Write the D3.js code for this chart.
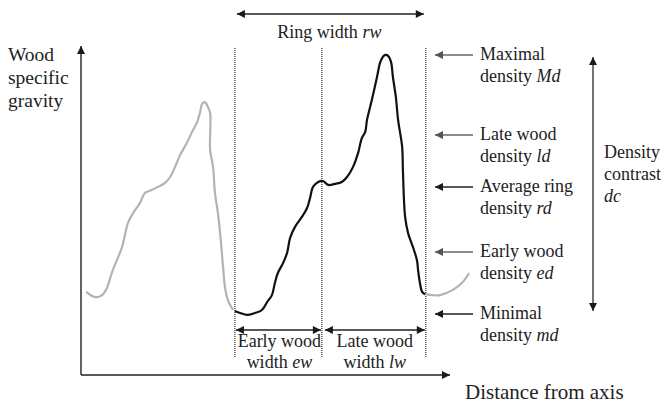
<!DOCTYPE html>
<html>
<head>
<meta charset="utf-8">
<script src="https://cdn.jsdelivr.net/npm/d3@7"></script>
<style>
  html, body { margin: 0; padding: 0; background: #fff; }
  svg { display: block; }
  text { font-family: "Liberation Serif", "Times New Roman", serif; fill: #222; }
</style>
</head>
<body>
<svg id="chart" width="664" height="405"></svg>
<script>
// ---- data: distance (x) and wood specific gravity (y), relative units ----
const prevRing = [
  [0.14,0.252],[0.38,0.236],[0.57,0.242],[0.70,0.264],[0.84,0.312],[0.97,0.348],
  [1.11,0.388],[1.27,0.461],[1.41,0.491],[1.59,0.521],[1.73,0.552],[1.86,0.558],
  [2.08,0.570],[2.27,0.582],[2.41,0.600],[2.54,0.630],[2.68,0.667],[2.86,0.703],
  [3.00,0.736],[3.14,0.767],[3.22,0.797],[3.27,0.821],[3.35,0.827],[3.43,0.812],
  [3.49,0.794],[3.49,0.682],[3.57,0.630],[3.62,0.552],[3.70,0.491],[3.76,0.430],
  [3.84,0.327],[3.89,0.267],[3.97,0.227],[4.11,0.197]
];
const ring = [
  [4.16,0.194],[4.30,0.188],[4.49,0.182],[4.70,0.188],[4.89,0.197],[5.03,0.221],
  [5.16,0.242],[5.24,0.279],[5.32,0.309],[5.46,0.339],[5.57,0.370],[5.65,0.415],
  [5.78,0.448],[5.97,0.479],[6.11,0.506],[6.19,0.536],[6.27,0.570],[6.41,0.585],
  [6.54,0.588],[6.68,0.576],[6.86,0.579],[7.05,0.585],[7.19,0.600],[7.35,0.630],
  [7.49,0.673],[7.59,0.718],[7.68,0.736],[7.73,0.773],[7.86,0.833],[8.00,0.903],
  [8.08,0.945],[8.14,0.961],[8.22,0.970],[8.30,0.967],[8.38,0.948],[8.43,0.903],
  [8.51,0.842],[8.57,0.773],[8.68,0.691],[8.70,0.621],[8.76,0.479],[8.84,0.430],
  [8.97,0.388],[9.08,0.348],[9.11,0.318],[9.16,0.279],[9.22,0.252],[9.30,0.245]
];
const nextRing = [
  [9.30,0.245],[9.51,0.242],[9.70,0.242],[10.05,0.258],[10.32,0.282],[10.49,0.309]
];
// ring boundaries: start of early wood, early/late transition, end of late wood
const boundaries = [4.16, 6.51, 9.32];
// density levels pointed to on the right
const densityLabels = [
  { value: 0.970, line1: "Maximal",      line2: ["density ", "Md"], dark: false },
  { value: 0.727, line1: "Late wood",    line2: ["density ", "ld"], dark: false },
  { value: 0.570, line1: "Average ring", line2: ["density ", "rd"], dark: true  },
  { value: 0.373, line1: "Early wood",   line2: ["density ", "ed"], dark: false },
  { value: 0.185, line1: "Minimal",      line2: ["density ", "md"], dark: true  }
];
const yAxisTitle = ["Wood", "specific", "gravity"];
const xAxisTitle = "Distance from axis";
const contrastTitle = [["Density"], ["contrast"], ["", "dc"]];
const widthLabels = [
  { from: 0, to: 1, line1: "Early wood", line2: ["width ", "ew"] },
  { from: 1, to: 2, line1: "Late wood",  line2: ["width ", "lw"] }
];
const ringWidthLabel = ["Ring width ", "rw"];

// ---- scales ----
const xMax = 10;
const x = d3.scaleLinear().domain([0, xMax]).range([81, 451]);
const y = d3.scaleLinear().domain([0, 1]).range([375, 45]);

const svg = d3.select("#chart");
const defs = svg.append("defs");
function marker(id, color) {
  defs.append("marker").attr("id", id)
    .attr("viewBox", "0 0 10 10").attr("refX", 10).attr("refY", 5)
    .attr("markerWidth", 9).attr("markerHeight", 8)
    .attr("markerUnits", "userSpaceOnUse")
    .attr("orient", "auto-start-reverse")
    .append("path").attr("d", "M0,0 L10,5 L0,10 Z").attr("fill", color);
}
marker("arDark", "#1a1a1a");
marker("arGray", "#555");

// ---- axes ----
svg.append("line").attr("x1", x(0)).attr("y1", y(0)).attr("x2", x(0)).attr("y2", y(1) + 1)
  .attr("stroke", "#222").attr("stroke-width", 1.4).attr("marker-end", "url(#arDark)");
svg.append("line").attr("x1", x(0)).attr("y1", y(0)).attr("x2", x(xMax) - 1).attr("y2", y(0))
  .attr("stroke", "#222").attr("stroke-width", 1.6).attr("marker-end", "url(#arDark)");

svg.append("g").selectAll("text").data(yAxisTitle).join("text")
  .attr("x", 8).attr("y", (d, i) => 61 + i * 23)
  .attr("font-size", 19.5).text(d => d);
svg.append("text").attr("x", 465).attr("y", 399).attr("font-size", 21).text(xAxisTitle);

// ---- dotted ring boundaries ----
svg.append("g").selectAll("line").data(boundaries).join("line")
  .attr("x1", d => x(d)).attr("x2", d => x(d))
  .attr("y1", 48).attr("y2", 357)
  .attr("stroke", "#000").attr("stroke-width", 1).attr("stroke-dasharray", "1,1");

// ---- curves ----
const line = d3.line().x(d => x(d[0])).y(d => y(d[1])).curve(d3.curveCatmullRom.alpha(0.5));
svg.append("path").datum(prevRing).attr("d", line)
  .attr("fill", "none").attr("stroke", "#b3b3b3").attr("stroke-width", 2.2).attr("stroke-linejoin", "round");
svg.append("path").datum(nextRing).attr("d", line)
  .attr("fill", "none").attr("stroke", "#b3b3b3").attr("stroke-width", 2.2).attr("stroke-linejoin", "round");
svg.append("path").datum(ring).attr("d", line)
  .attr("fill", "none").attr("stroke", "#111").attr("stroke-width", 2.2).attr("stroke-linejoin", "round");

// ---- ring width arrow ----
svg.append("line").attr("x1", x(boundaries[0]) + 2).attr("x2", x(boundaries[2]) - 2)
  .attr("y1", 14).attr("y2", 14)
  .attr("stroke", "#222").attr("stroke-width", 1.5)
  .attr("marker-start", "url(#arDark)").attr("marker-end", "url(#arDark)");
const rwText = svg.append("text").attr("x", (x(boundaries[0]) + x(boundaries[2])) / 2 - 1)
  .attr("y", 38).attr("font-size", 18).attr("text-anchor", "middle");
rwText.append("tspan").text(ringWidthLabel[0]);
rwText.append("tspan").attr("font-style", "italic").text(ringWidthLabel[1]);

// ---- early / late wood width arrows ----
const wg = svg.append("g").selectAll("g").data(widthLabels).join("g");
wg.append("line")
  .attr("x1", d => x(boundaries[d.from]) + (d.from === 0 ? 1 : 3))
  .attr("x2", d => x(boundaries[d.to]) - 1)
  .attr("y1", 330).attr("y2", 330)
  .attr("stroke", "#222").attr("stroke-width", 1.5)
  .attr("marker-start", "url(#arDark)").attr("marker-end", "url(#arDark)");
wg.append("text")
  .attr("x", d => (x(boundaries[d.from]) + x(boundaries[d.to])) / 2 + 1)
  .attr("y", 347).attr("font-size", 18).attr("text-anchor", "middle")
  .text(d => d.line1);
const wl2 = wg.append("text")
  .attr("x", d => (x(boundaries[d.from]) + x(boundaries[d.to])) / 2 + 1)
  .attr("y", 368).attr("font-size", 18).attr("text-anchor", "middle");
wl2.append("tspan").text(d => d.line2[0]);
wl2.append("tspan").attr("font-style", "italic").text(d => d.line2[1]);

// ---- density labels on the right ----
const dg = svg.append("g").selectAll("g").data(densityLabels).join("g");
dg.append("line")
  .attr("x1", 473).attr("x2", 435)
  .attr("y1", d => y(d.value)).attr("y2", d => y(d.value))
  .attr("stroke", d => d.dark ? "#222" : "#666").attr("stroke-width", 1.5)
  .attr("marker-end", d => d.dark ? "url(#arDark)" : "url(#arGray)");
dg.append("text").attr("x", 480).attr("y", d => y(d.value) + 5)
  .attr("font-size", 18).text(d => d.line1);
const dl2 = dg.append("text").attr("x", 480).attr("y", d => y(d.value) + 27).attr("font-size", 18);
dl2.append("tspan").text(d => d.line2[0]);
dl2.append("tspan").attr("font-style", "italic").text(d => d.line2[1]);

// ---- density contrast arrow ----
const md = densityLabels[4].value, Md = densityLabels[0].value;
svg.append("line").attr("x1", 593).attr("x2", 593)
  .attr("y1", y(md) - 3).attr("y2", y(Md) + 2)
  .attr("stroke", "#444").attr("stroke-width", 1.5)
  .attr("marker-start", "url(#arDark)").attr("marker-end", "url(#arDark)");
const ct = svg.append("g").selectAll("text").data(contrastTitle).join("text")
  .attr("x", 604).attr("y", (d, i) => 158 + i * 22).attr("font-size", 18);
ct.append("tspan").text(d => d[0]);
ct.filter(d => d.length > 1).append("tspan").attr("font-style", "italic").text(d => d[1]);
</script>
</body>
</html>
